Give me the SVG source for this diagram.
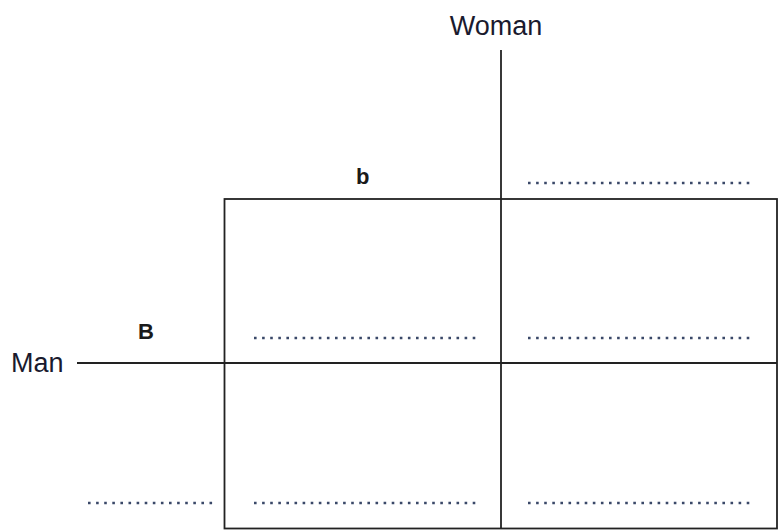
<svg xmlns="http://www.w3.org/2000/svg" width="779" height="531" viewBox="0 0 779 531">
<style>
.ln{stroke:#222;stroke-width:1.8;fill:none}
.dot{stroke:#3a4868;stroke-width:2.6;stroke-dasharray:2.6 5.5;fill:none}
.lbl{font-family:"Liberation Sans",Arial,sans-serif;font-size:27px;fill:#1a1a2e}
.bold{font-family:"Liberation Sans",Arial,sans-serif;font-size:22px;font-weight:bold;fill:#1a1a1a}
</style>
<rect width="779" height="531" fill="#fff"/>
<g id="connectors">
<line class="ln" x1="501" y1="50" x2="501" y2="529"/>
<line class="ln" x1="77" y1="363" x2="777" y2="363"/>
</g>
<g id="grid">
<rect class="ln" x="224.5" y="199" width="552.5" height="329.5"/>
</g>
<g id="woman"><text class="lbl" x="496" y="35" text-anchor="middle">Woman</text></g>
<g id="man"><text class="lbl" x="11" y="372">Man</text></g>
<g id="allele-b"><text class="bold" x="356" y="184">b</text></g>
<g id="allele-B"><text class="bold" x="138" y="339">B</text></g>
<g id="blanks">
<line class="dot" x1="528" y1="183" x2="750" y2="183"/>
<line class="dot" x1="254" y1="338" x2="476" y2="338"/>
<line class="dot" x1="528" y1="338" x2="750" y2="338"/>
<line class="dot" x1="88" y1="503" x2="216" y2="503"/>
<line class="dot" x1="254" y1="503" x2="476" y2="503"/>
<line class="dot" x1="528" y1="503" x2="750" y2="503"/>
</g>
</svg>
